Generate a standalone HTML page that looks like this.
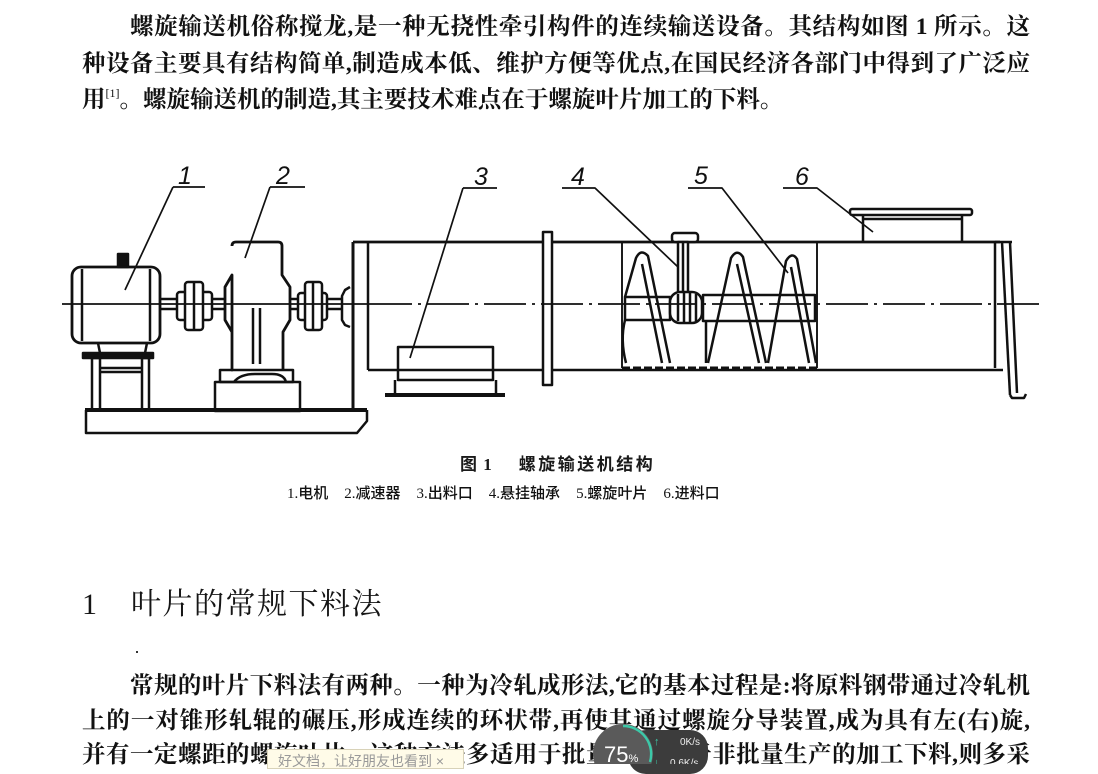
<!DOCTYPE html>
<html><head><meta charset="utf-8">
<style>
html,body{margin:0;padding:0;background:#fff;}
body{width:1098px;height:764px;position:relative;overflow:hidden;}
.t{position:absolute;font-family:"Liberation Serif","Noto Serif CJK SC","Noto Sans CJK SC",serif;font-size:23.5px;font-weight:bold;color:#111;white-space:nowrap;line-height:30px;}
.j{text-align:justify;text-align-last:justify;white-space:normal;}
sup{font-size:12px;font-weight:normal;vertical-align:10px;line-height:0;}
.cap{position:absolute;font-family:"Liberation Serif","Noto Sans CJK SC",sans-serif;color:#1a1a1a;white-space:nowrap;}
svg{position:absolute;left:0;top:0;}
</style></head><body>

<div class="t j" style="left:130px;top:12px;width:900px;">螺旋输送机俗称搅龙,是一种无挠性牵引构件的连续输送设备。其结构如图 1 所示。这</div>
<div class="t j" style="left:82px;top:49px;width:948px;">种设备主要具有结构简单,制造成本低、维护方便等优点,在国民经济各部门中得到了广泛应</div>
<div class="t" style="left:82px;top:85px;">用<sup>[1]</sup>。螺旋输送机的制造,其主要技术难点在于螺旋叶片加工的下料。</div>

<svg width="1098" height="764" viewBox="0 0 1098 764">
<g fill="none" stroke="#111" stroke-width="2.5" stroke-linejoin="round">
 <!-- base -->
 <line x1="85" y1="410" x2="367" y2="410" stroke-width="4"/>
 <path d="M86,410 L86,433 L357,433 L367,421 L367,410"/>
 <!-- motor stand -->
 <rect x="83" y="353" width="70" height="5" fill="#111"/>
 <rect x="92" y="358" width="8" height="52"/>
 <rect x="142" y="358" width="7" height="52"/>
 <line x1="100" y1="368" x2="142" y2="368"/>
 <line x1="100" y1="372" x2="142" y2="372"/>
 <path d="M98,343 L100,353 M147,343 L145,353"/>
 <!-- motor -->
 <rect x="72" y="267" width="88" height="76" rx="9" stroke-width="2.8"/>
 <line x1="82" y1="269" x2="82" y2="341"/>
 <line x1="150" y1="269" x2="150" y2="341"/>
 <rect x="118" y="254" width="10" height="13" fill="#111"/>
 <!-- shaft & coupling 1 -->
 <path d="M160,299 L177,299 M160,309 L177,309"/>
 <rect x="177" y="292" width="35" height="28" rx="3"/>
 <rect x="185" y="282" width="18" height="48" rx="3" fill="#fff"/>
 <line x1="194" y1="283" x2="194" y2="329"/>
 <path d="M212,299 L225,299 M212,309 L225,309"/>
 <!-- reducer -->
 <path d="M232,246 Q232,242 236,242 L278,242 Q282,242 282,246 L282,275 L290,287 L290,320 L283,332 L283,370 M232,370 L232,332 L225,320 L225,287 L232,275 Z" stroke-width="2.8"/>
 <line x1="253" y1="308" x2="253" y2="364"/>
 <line x1="260" y1="308" x2="260" y2="364"/>
 <rect x="220" y="370" width="73" height="12"/>
 <path d="M234,382 Q240,374 255,374 L272,374 Q284,374 286,382"/>
 <rect x="215" y="382" width="85" height="29"/>
 <!-- coupling 2 -->
 <path d="M290,299 L298,299 M290,309 L298,309"/>
 <rect x="298" y="293" width="29" height="27" rx="3"/>
 <rect x="305" y="282" width="17" height="48" rx="3" fill="#fff"/>
 <line x1="313" y1="283" x2="313" y2="329"/>
 <path d="M327,299 L342,299 M327,309 L342,309"/>
 <path d="M350,287 L345,290 L342,296 L342,320 L345,325 L350,327"/>
 <!-- tube -->
 <line x1="353" y1="242" x2="353" y2="411" stroke-width="3"/>
 <line x1="368" y1="242" x2="368" y2="370"/>
 <line x1="353" y1="242" x2="1000" y2="242" stroke-width="2.8"/>
 <line x1="368" y1="370" x2="1003" y2="370" stroke-width="2.6"/>
 <rect x="543" y="232" width="9" height="153" fill="#fff"/>
 <!-- outlet -->
 <rect x="398" y="347" width="95" height="33"/>
 <path d="M395,380 L395,393 M496,380 L496,393"/>
 <line x1="385" y1="395" x2="505" y2="395" stroke-width="4"/>
 <!-- intermediate section -->
 <line x1="622" y1="243" x2="622" y2="368" stroke-width="1.9"/>
 <line x1="817" y1="243" x2="817" y2="368" stroke-width="1.9"/>
 <!-- shafts -->
 <rect x="625" y="297" width="45" height="23"/>
 <rect x="703" y="295" width="112" height="26"/>
 <!-- flights -->
 <path d="M625,297 L636,258 Q641,248 648,256 L670,363"/>
 <path d="M642,264 L662,363"/>
 <path d="M625,320 Q620,340 626,363"/>
 <path d="M706,322 L706,363"/>
 <path d="M708,363 L731,258 Q737,248 743,257 L766,363"/>
 <path d="M737,264 L759,363"/>
 <path d="M768,363 L786,261 Q792,251 797,259 L816,363"/>
 <path d="M791,267 L809,363"/>
 <line x1="622" y1="368" x2="817" y2="368" stroke-width="3" stroke-dasharray="8 3"/>
 <!-- hanger bearing -->
 <rect x="672" y="233" width="26" height="9" rx="3" fill="#fff"/>
 <rect x="678" y="242" width="10" height="52" fill="#fff"/>
 <line x1="683" y1="243" x2="683" y2="293"/>
 <rect x="670" y="292" width="32" height="31" rx="10" fill="#fff"/>
 <path d="M678,294 L678,321 M684,293 L684,322 M690,293 L690,322 M696,294 L696,321"/>
 <!-- inlet -->
 <rect x="850" y="209" width="122" height="6" rx="2"/>
 <path d="M863,215 L863,242 M962,215 L962,242"/>
 <line x1="863" y1="219" x2="962" y2="219"/>
 <!-- right end -->
 <line x1="995" y1="242" x2="995" y2="368"/>
 <line x1="995" y1="242" x2="1012" y2="242"/>
 <line x1="1002" y1="242" x2="1010" y2="395"/>
 <line x1="1010" y1="242" x2="1017" y2="393"/>
 <path d="M1010,395 L1012,398 L1024,398 L1026,394"/>
 <!-- centerline -->
 <line x1="62" y1="304" x2="370" y2="304" stroke-width="1.7"/>
 <line x1="370" y1="304" x2="1045" y2="304" stroke-width="1.7" stroke-dasharray="42 6 3 6"/>
 <!-- leaders -->
 <g stroke-width="1.7">
  <path d="M173,187 L205,187 M173,187 L125,290"/>
  <path d="M270,187 L305,187 M270,187 L245,258"/>
  <path d="M463,188 L497,188 M463,188 L410,358"/>
  <path d="M562,188 L595,188 L678,267"/>
  <path d="M688,188 L722,188 L788,273"/>
  <path d="M783,188 L817,188 L873,232"/>
 </g>
</g>
<g font-family="Liberation Sans, sans-serif" font-style="italic" font-size="25" fill="#111">
 <text x="178" y="184">1</text>
 <text x="276" y="184">2</text>
 <text x="474" y="185">3</text>
 <text x="571" y="185">4</text>
 <text x="694" y="184">5</text>
 <text x="795" y="185">6</text>
</g>
</svg>

<div class="cap" style="left:460px;top:450px;font-size:17px;font-weight:bold;letter-spacing:1px;">图 1<span style="display:inline-block;width:26px"></span><span style="letter-spacing:2.5px">螺旋输送机结构</span></div>
<div class="cap" style="left:287px;top:482px;font-size:15px;font-weight:500;color:#111;">1.电机<span style="display:inline-block;width:16px"></span>2.减速器<span style="display:inline-block;width:16px"></span>3.出料口<span style="display:inline-block;width:16px"></span>4.悬挂轴承<span style="display:inline-block;width:16px"></span>5.螺旋叶片<span style="display:inline-block;width:16px"></span>6.进料口</div>

<div class="cap" style="left:82px;top:579px;font-size:30px;color:#151515;font-family:'Liberation Serif','Noto Serif CJK SC',serif;">1<span style="display:inline-block;width:34px"></span><span style="letter-spacing:1.5px">叶片的常规下料法</span></div>
<div style="position:absolute;left:136px;top:651px;width:2px;height:2px;background:#333;"></div>

<div class="t j" style="left:130px;top:671px;width:900px;">常规的叶片下料法有两种。一种为冷轧成形法,它的基本过程是:将原料钢带通过冷轧机</div>
<div class="t j" style="left:82px;top:706px;width:948px;">上的一对锥形轧辊的碾压,形成连续的环状带,再使其通过螺旋分导装置,成为具有左(右)旋,</div>
<div class="t j" style="left:82px;top:740px;width:948px;">并有一定螺距的螺旋叶片。这种方法多适用于批量生产,对于非批量生产的加工下料,则多采</div>

<!-- overlays -->
<div style="position:absolute;left:267px;top:749px;width:197px;height:20px;background:#fffbe8;border:1px solid #d8d2b8;box-sizing:border-box;font-family:'Liberation Sans','Noto Sans CJK SC',sans-serif;font-size:14px;color:#999;padding-left:10px;line-height:22px;white-space:nowrap;overflow:hidden;">好文档，让好朋友也看到 ×</div>
<div style="position:absolute;left:628px;top:730px;width:80px;height:44px;border-radius:18px;background:#3c3c3c;"></div>
<svg width="1098" height="764" viewBox="0 0 1098 764">
 <circle cx="623" cy="754" r="30" fill="#5a5a5a"/>
 <path d="M623,726 A28,28 0 0 1 650,762" fill="none" stroke="#3cc8a8" stroke-width="2.5"/>
 <text x="604" y="762" font-family="Liberation Sans, sans-serif" font-size="22" fill="#fff">75<tspan font-size="11">%</tspan></text>
 <text x="654" y="745" font-family="Liberation Sans, sans-serif" font-size="11" fill="#3cc8a8">↑</text>
 <text x="680" y="745" font-family="Liberation Sans, sans-serif" font-size="10" fill="#eee">0K/s</text>
 <text x="654" y="766" font-family="Liberation Sans, sans-serif" font-size="11" fill="#3cc8a8">↓</text>
 <text x="670" y="766" font-family="Liberation Sans, sans-serif" font-size="10" fill="#eee">0.6K/s</text>
</svg>
</body></html>
